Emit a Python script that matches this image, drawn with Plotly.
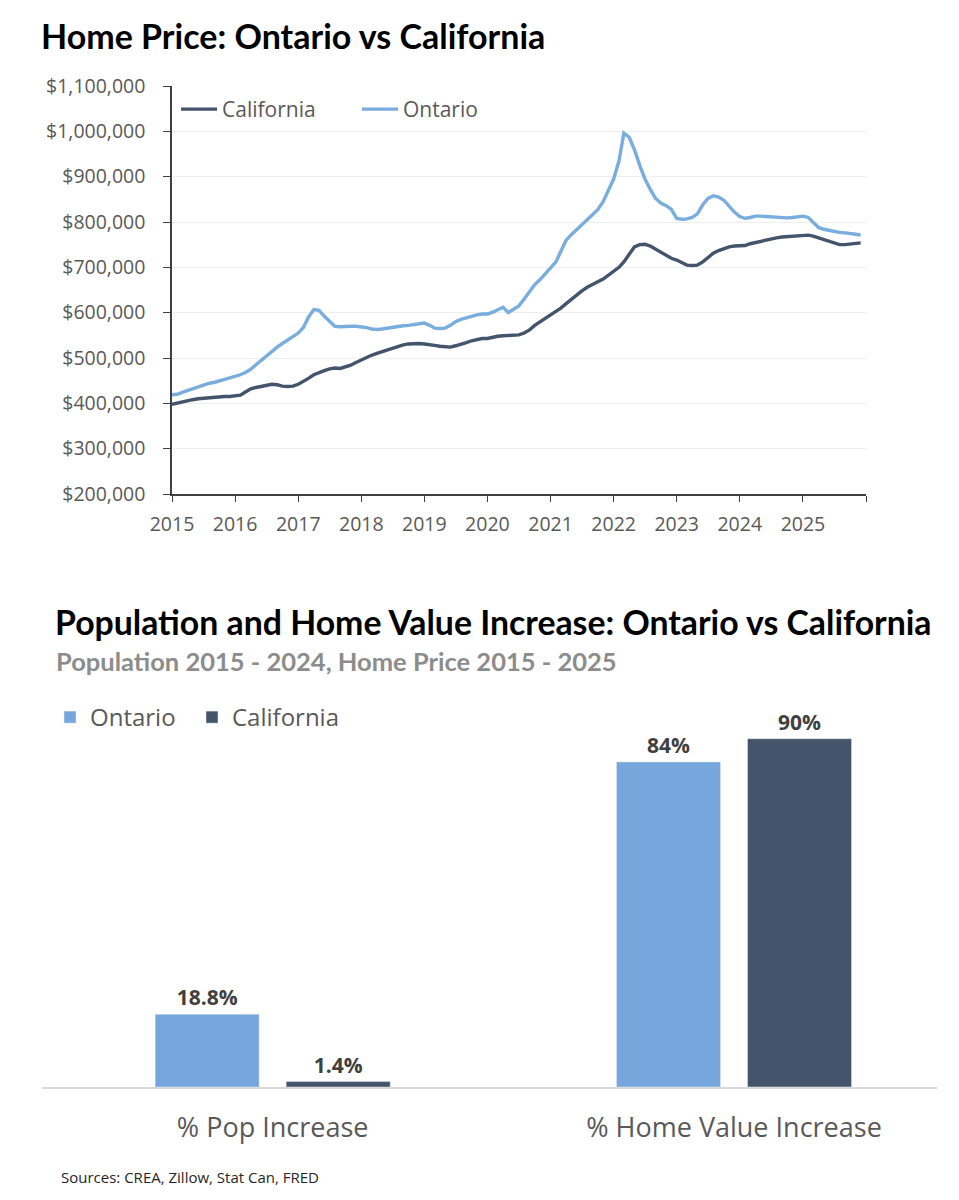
import pandas as pd
import plotly.graph_objects as go

# --- данные: цены на жильё по месяцам, янв 2015 - дек 2025 (тыс. $) ---
months = pd.date_range("2015-01-01", "2025-12-01", freq="MS")

california_k = [
    398, 401, 404, 406, 408, 410, 411, 412, 414, 415, 415, 415,   # 2015
    416, 418, 425, 432, 435, 437, 440, 442, 441, 438, 437, 438,   # 2016
    442, 448, 455, 463, 468, 472, 476, 478, 477, 480, 484, 490,   # 2017
    496, 502, 506, 510, 514, 518, 521, 525, 529, 531, 532, 532,   # 2018
    531, 530, 528, 526, 525, 524, 527, 530, 534, 538, 541, 543,   # 2019
    543, 546, 548, 549, 550, 550, 551, 555, 562, 572, 580, 588,   # 2020
    595, 602, 610, 620, 630, 640, 648, 656, 663, 668, 674, 682,   # 2021
    690, 700, 712, 730, 745, 750, 751, 747, 740, 733, 726, 720,   # 2022
    716, 710, 705, 704, 705, 712, 722, 731, 737, 741, 745, 747,   # 2023
    747, 748, 752, 755, 758, 760, 762, 765, 767, 768, 769, 770,   # 2024
    771, 771, 769, 765, 762, 758, 753, 750, 750, 751, 753, 754,   # 2025
]

ontario_k = [
    419, 420, 424, 428, 433, 437, 441, 444, 446, 449, 452, 455,   # 2015
    459, 463, 468, 475, 485, 495, 505, 515, 524, 532, 540, 548,   # 2016
    555, 568, 590, 607, 605, 592, 580, 570, 569, 570, 570, 570,   # 2017
    569, 567, 564, 563, 564, 566, 568, 570, 571, 572, 574, 576,   # 2018
    577, 572, 566, 565, 566, 572, 580, 585, 589, 592, 595, 597,   # 2019
    597, 601, 606, 612, 600, 608, 615, 630, 648, 662, 673, 685,   # 2020
    698, 712, 735, 760, 772, 783, 792, 805, 815, 827, 845, 868,   # 2021
    895, 935, 996, 987, 960, 925, 895, 872, 852, 842, 836, 828,   # 2022
    808, 806, 807, 810, 818, 838, 852, 858, 855, 848, 835, 822,   # 2023
    812, 808, 810, 813, 813, 812, 812, 811, 810, 809, 810, 812,   # 2024
    813, 810, 800, 788, 784, 781, 779, 777, 776, 775, 773, 771,   # 2025
]

year_ticks = list(range(2015, 2027))
year_labels = [str(y) for y in range(2015, 2026)] + [""]

# --- данные: рост населения и цен (%) ---
categories = ["% Pop Increase", "% Home Value Increase"]
ontario_pct = [18.8, 84]
california_pct = [1.4, 90]
ontario_pct_labels = ["18.8%", "84%"]
california_pct_labels = ["1.4%", "90%"]

DARK = "#44546A"
LIGHT = "#79ADDE"
BAR_LIGHT = "#77A6DC"
GREY = "#595959"
TITLE_FONT = "Lato, Roboto, sans-serif"
BODY_FONT = "Open Sans, Roboto, sans-serif"

W, H = 959, 1200
PAGE_OFFSET = 8  # отступ body у страницы


def px(x):
    return (x - PAGE_OFFSET) / W


def py(y):
    return 1 - (y - PAGE_OFFSET) / H


fig = go.Figure()

# верхний график - линии
fig.add_trace(go.Scatter(x=months, y=[v * 1000 for v in california_k], name="California",
                         mode="lines", line=dict(color=DARK, width=3.4),
                         xaxis="x", yaxis="y", legend="legend"))
fig.add_trace(go.Scatter(x=months, y=[v * 1000 for v in ontario_k], name="Ontario",
                         mode="lines", line=dict(color=LIGHT, width=3.4),
                         xaxis="x", yaxis="y", legend="legend"))

# нижний график - столбцы (у каждой серии своя легенда, чтобы выставить отступы)
label_font = dict(size=21, color="#404040", family=BODY_FONT, weight="bold")
fig.add_trace(go.Bar(x=categories, y=ontario_pct, name="Ontario", marker_color=BAR_LIGHT,
                     text=ontario_pct_labels, textposition="outside", textfont=label_font,
                     cliponaxis=False, xaxis="x2", yaxis="y2", legend="legend2"))
fig.add_trace(go.Bar(x=categories, y=california_pct, name="California", marker_color=DARK,
                     text=california_pct_labels, textposition="outside", textfont=label_font,
                     cliponaxis=False, xaxis="x2", yaxis="y2", legend="legend3"))

bar_legend = dict(orientation="h", yanchor="top", xanchor="left",
                  font=dict(size=24, color=GREY), bgcolor="rgba(0,0,0,0)")

fig.update_layout(
    width=W, height=H, autosize=False,
    margin=dict(l=0, r=0, t=0, b=0, autoexpand=False),
    paper_bgcolor="white", plot_bgcolor="white",
    font=dict(family=BODY_FONT, color=GREY),
    barmode="group", bargap=0.432, bargroupgap=0.206,
    xaxis=dict(domain=[px(172), px(866)], type="date",
               range=[pd.Timestamp("2015-01-01"), pd.Timestamp("2026-01-01")],
               tickvals=[pd.Timestamp(f"{y}-01-01") for y in year_ticks], ticktext=year_labels,
               showgrid=False, showline=True, linecolor="#404040", linewidth=1.5,
               ticks="outside", ticklen=6, tickcolor="#404040", ticklabelstandoff=6,
               tickfont=dict(size=19.5, color=GREY), anchor="y"),
    yaxis=dict(domain=[py(494), py(86)], range=[200000, 1100000], dtick=100000,
               tickprefix="$", tickformat=",.0f",
               showgrid=True, gridcolor="#EFEFEF", gridwidth=1,
               showline=True, linecolor="#404040", linewidth=1.5,
               ticks="outside", ticklen=7, tickcolor="#404040", ticklabelstandoff=14,
               tickfont=dict(size=19.5, color=GREY), zeroline=False, anchor="x"),
    xaxis2=dict(domain=[px(42), px(937)], range=[-0.5, 1.44], type="category",
                showgrid=False, showline=True, linecolor="#D9D9D9", linewidth=1.5,
                ticks="outside", ticklen=16, tickcolor="rgba(0,0,0,0)",
                tickfont=dict(size=27, color=GREY), anchor="y2"),
    yaxis2=dict(domain=[py(1087), py(700)], range=[0, 100], visible=False, anchor="x2"),
    legend=dict(orientation="h", x=px(176), y=py(89), xanchor="left", yanchor="top",
                font=dict(size=21, color=GREY), bgcolor="rgba(0,0,0,0)",
                itemwidth=36, tracegroupgap=0, entrywidth=130),
    legend2=dict(bar_legend, x=px(50), y=py(695)),
    legend3=dict(bar_legend, x=px(192), y=py(695)),
    showlegend=True,
)

# заголовки и подписи
fig.add_annotation(text="<b>Home Price: Ontario vs California</b>", xref="paper", yref="paper",
                   x=px(39), y=py(36), xanchor="left", yanchor="middle", showarrow=False,
                   font=dict(family=TITLE_FONT, size=34, color="black"))
fig.add_annotation(text="<b>Population and Home Value Increase: Ontario vs California</b>",
                   xref="paper", yref="paper", x=px(53), y=py(622), xanchor="left",
                   yanchor="middle", showarrow=False,
                   font=dict(family=TITLE_FONT, size=33.8, color="black"))
fig.add_annotation(text="<b>Population 2015 - 2024, Home Price 2015 - 2025</b>",
                   xref="paper", yref="paper", x=px(54), y=py(661), xanchor="left",
                   yanchor="middle", showarrow=False,
                   font=dict(family=TITLE_FONT, size=25.5, color="#8C8C8C"))
fig.add_annotation(text="Sources: CREA, Zillow, Stat Can, FRED", xref="paper", yref="paper",
                   x=px(59), y=py(1177), xanchor="left", yanchor="middle", showarrow=False,
                   font=dict(family=BODY_FONT, size=15, color="#262626"))

fig.write_html("out.html")
